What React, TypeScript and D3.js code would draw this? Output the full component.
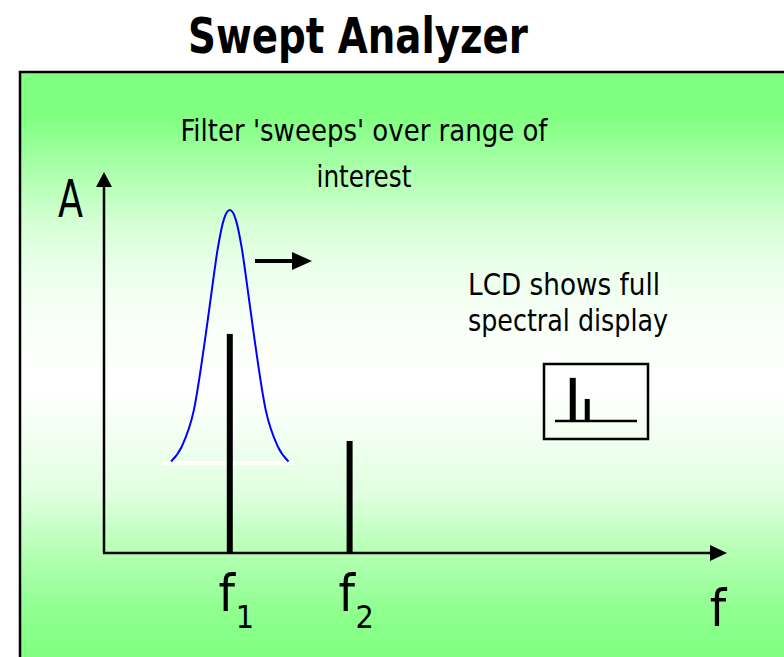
import React from 'react';
import * as d3 from 'd3';

// spectrum lines
const lineLabels = ['1', '2'];
const lineFreqs = [1.05, 2.05];
const lineAmps = [0.575, 0.294];

// swept filter shape (offset from f1, level)
const filterOffsets = [-0.49, -0.4, -0.3, -0.2, -0.15, -0.1, -0.05, 0, 0.05, 0.1, 0.15, 0.2, 0.3, 0.4, 0.49];
const filterLevels = [0.24, 0.28, 0.375, 0.575, 0.69, 0.8, 0.875, 0.9, 0.875, 0.8, 0.69, 0.575, 0.375, 0.28, 0.24];

const titleText = 'Swept Analyzer';
const noteLines = ["Filter 'sweeps' over range of", 'interest'];
const lcdLines = ['LCD shows full', 'spectral display'];

// background fade (page y, colour)
const bgStops: [number, string][] = [
  [71, '#80ff80'],
  [115, '#80ff80'],
  [221, '#d4ffd4'],
  [271, '#ecffec'],
  [321, '#f8fff8'],
  [375, '#ffffff'],
  [400, '#fdfffd'],
  [493, '#e0ffe0'],
  [560, '#b0ffb0'],
  [610, '#90ff90'],
  [657, '#80ff80'],
];

const FONT = "'Liberation Sans Narrow', 'DejaVu Sans Condensed', 'Arial Narrow', sans-serif";

export default function App() {
  const width = 784;
  const height = 657;

  // main axes
  const x = d3.scaleLinear().domain([0, 5.2]).range([104, 727]);
  const y = d3.scaleLinear().domain([0, 1]).range([553, 172]);

  // inset display
  const mx = d3.scaleLinear().domain([0, 5.2]).range([557, 635]);
  const my = d3.scaleLinear().domain([0, 1]).range([421, 346]);

  const stopScale = d3.scaleLinear().domain([71, 657]).range([0, 1]);

  const filterLine = d3
    .line<number>()
    .x((d, i) => x(lineFreqs[0] + filterOffsets[i]))
    .y((d) => y(d))
    .curve(d3.curveMonotoneX);

  const x0 = x.range()[0];
  const y0 = y.range()[0];
  const xEnd = x.range()[1];
  const yEnd = y.range()[1];

  return (
    <svg width={width} height={height} style={{ position: 'absolute', left: 0, top: 0 }} fontFamily={FONT}>
      <defs>
        <linearGradient id="bg" x1="0" y1="71" x2="0" y2="657" gradientUnits="userSpaceOnUse">
          {bgStops.map(([py, c], i) => (
            <stop key={i} offset={stopScale(py)} stopColor={c} />
          ))}
        </linearGradient>
      </defs>
      <rect x={0} y={0} width={width} height={height} fill="#ffffff" />

      {/* title */}
      <text x={188} y={53} fontSize={50} fontWeight="bold" textLength={340} lengthAdjust="spacingAndGlyphs">
        {titleText}
      </text>

      {/* panel */}
      <rect x={20} y={72} width={800} height={640} fill="url(#bg)" stroke="#000" strokeWidth={2.5} />

      {/* note text */}
      <text x={364} y={141} fontSize={31} textAnchor="middle" textLength={367} lengthAdjust="spacingAndGlyphs">
        {noteLines[0]}
      </text>
      <text x={364} y={187} fontSize={31} textAnchor="middle" textLength={95} lengthAdjust="spacingAndGlyphs">
        {noteLines[1]}
      </text>

      {/* axes */}
      <line x1={x0} y1={y0} x2={x0} y2={yEnd + 12} stroke="#000" strokeWidth={2.5} />
      <path d={`M${x0},${yEnd} L${x0 - 8},${yEnd + 15} L${x0 + 8},${yEnd + 15} Z`} fill="#000" />
      <line x1={x0 - 1} y1={y0} x2={xEnd - 12} y2={y0} stroke="#000" strokeWidth={2.5} />
      <path d={`M${xEnd},${y0} L${xEnd - 17},${y0 - 8} L${xEnd - 17},${y0 + 8} Z`} fill="#000" />

      <text x={58} y={217} fontSize={52} textLength={25} lengthAdjust="spacingAndGlyphs">A</text>
      <text x={718} y={626} fontSize={52} textAnchor="middle">f</text>

      {/* filter */}
      <line
        x1={x(lineFreqs[0] - 0.56)}
        x2={x(lineFreqs[0] + 0.54)}
        y1={y(0.236)}
        y2={y(0.236)}
        stroke="#ffffff"
        strokeWidth={4}
      />
      <path d={filterLine(filterLevels) || ''} fill="none" stroke="#0000ff" strokeWidth={2} />

      {/* sweep arrow */}
      <line x1={255} y1={261} x2={296} y2={261} stroke="#000" strokeWidth={4} />
      <path d="M312,261 L292,252 L292,270 Z" fill="#000" />

      {/* spectrum lines */}
      {lineFreqs.map((f, i) => (
        <g key={i}>
          <rect x={x(f) - 3} y={y(lineAmps[i])} width={6} height={y0 - y(lineAmps[i])} fill="#000" />
          <text x={x(f) - 3} y={611} fontSize={52} textAnchor="middle">f</text>
          <text x={x(f) + 15} y={628} fontSize={32} textAnchor="middle">{lineLabels[i]}</text>
        </g>
      ))}

      {/* LCD note */}
      <text x={468} y={295} fontSize={31} textLength={192} lengthAdjust="spacingAndGlyphs">{lcdLines[0]}</text>
      <text x={468} y={331} fontSize={31} textLength={200} lengthAdjust="spacingAndGlyphs">{lcdLines[1]}</text>

      {/* inset display */}
      <rect x={544} y={364} width={104} height={75} fill="none" stroke="#000" strokeWidth={2.5} />
      <line x1={555} x2={637} y1={my(0)} y2={my(0)} stroke="#000" strokeWidth={2.5} />
      {lineFreqs.map((f, i) => (
        <rect key={i} x={mx(f) - 3} y={my(lineAmps[i])} width={i === 0 ? 6 : 5} height={my(0) - my(lineAmps[i])} fill="#000" />
      ))}
    </svg>
  );
}
